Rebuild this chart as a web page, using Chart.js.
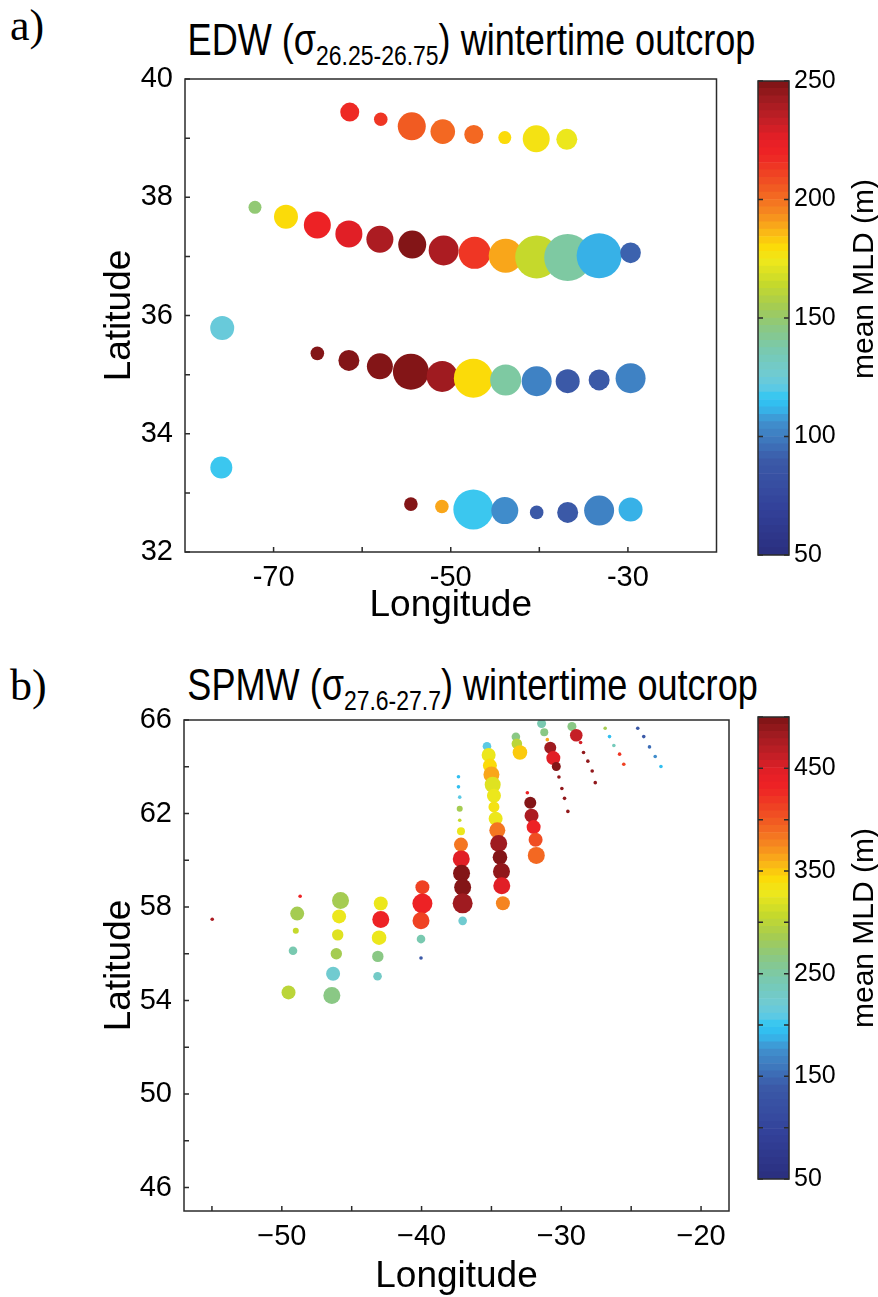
<!DOCTYPE html>
<html>
<head>
<meta charset="utf-8">
<script src="https://cdn.jsdelivr.net/npm/chart.js@4.4.1/dist/chart.umd.min.js"></script>
<style>
  body { margin: 0; background: #fff; width: 878px; height: 1297px; position: relative; overflow: hidden;
         font-family: "Liberation Sans", Arial, sans-serif; }
  canvas { position: absolute; }
  .tag { position: absolute; font-family: "Liberation Serif", "Times New Roman", serif; font-size: 44px; line-height: 44px; }
  .title { position: absolute; font-family: "Liberation Sans Narrow", "Liberation Sans", Arial, sans-serif;
           font-size: 44px; line-height: 44px; text-align: center; white-space: nowrap;
           transform: scaleX(0.82); transform-origin: center; }
  .title sub { font-size: 28px; vertical-align: -10px; line-height: 0; }
  .cblabel { position: absolute; width: 260px; height: 36px; line-height: 36px; font-size: 30px;
             text-align: center; white-space: nowrap; transform: rotate(-90deg); }
</style>
</head>
<body>
<div class="tag" style="left:10px; top:4px;">a)</div>
<div class="title" style="left:125px; width:693px; top:18px;">EDW (&sigma;<sub>26.25-26.75</sub>) wintertime outcrop</div>
<canvas id="chartA" width="740" height="660" style="left:0; top:0;"></canvas>
<canvas id="cbarA" width="138" height="660" style="left:740px; top:0;"></canvas>
<div class="cblabel" style="left:733px; top:261px;">mean MLD (m)</div>

<div class="tag" style="left:10px; top:664px;">b)</div>
<div class="title" style="left:125px; width:693px; top:663px;">SPMW (&sigma;<sub>27.6-27.7</sub>) wintertime outcrop</div>
<canvas id="chartB" width="740" height="637" style="left:0; top:660px;"></canvas>
<canvas id="cbarB" width="138" height="637" style="left:740px; top:660px;"></canvas>
<div class="cblabel" style="left:733px; top:910px;">mean MLD (m)</div>

<script>
// ---- panel a: EDW outcrop (rows from north to south, west to east)
const lonA = [
  -61.4, -57.9, -54.4, -50.9, -47.4, -43.9, -40.35, -36.9,
  -72.1, -68.6, -65.06, -61.5, -58.0, -54.35, -50.8, -47.3, -43.8, -40.3, -36.8, -33.25, -29.7,
  -75.8, -65.06, -61.5, -58.0, -54.5, -50.97, -47.45, -43.8, -40.3, -36.8, -33.25, -29.7,
  -75.9, -54.5, -51.0, -47.45, -43.9, -40.3, -36.8, -33.25, -29.7
];
const latA = [
  39.44, 39.32, 39.20, 39.11, 39.06, 39.01, 38.99, 38.98,
  37.83, 37.67, 37.53, 37.38, 37.29, 37.20, 37.10, 37.06, 37.01, 36.99, 36.98, 37.01, 37.06,
  35.79, 35.36, 35.24, 35.14, 35.05, 34.97, 34.94, 34.91, 34.89, 34.89, 34.91, 34.94,
  33.43, 32.81, 32.77, 32.72, 32.70, 32.67, 32.67, 32.70, 32.72
];
const mldA = [
  216, 214, 205, 200, 200, 179, 175, 173,
  148, 179, 219, 226, 240, 248, 238, 214, 188, 163, 138, 112, 93,
  122, 248, 248, 247, 248, 241, 179, 138, 100, 88, 90, 100,
  118, 247, 190, 116, 106, 89, 90, 102, 112
];
const sizeA = [
  9.5, 6.8, 14, 12.3, 9.5, 6.5, 13.5, 10.5,
  6.5, 12, 13.5, 13.5, 13.5, 14, 15, 16, 17, 21.5, 23.5, 22.5, 10.3,
  12, 6.8, 10.5, 13, 18, 15.5, 19.5, 15.5, 15, 12, 10.5, 15,
  11, 6.8, 6.8, 20, 13.5, 6.8, 10.5, 15, 12
];
const xTicksA = [-70, -60, -50, -40, -30];
const xLabelsA = [-70, -50, -30];
const yTicksA = [32, 33, 34, 35, 36, 37, 38, 39, 40];
const yLabelsA = [32, 34, 36, 38, 40];
const cbTicksA = [50, 100, 150, 200, 250];

// ---- panel b: SPMW outcrop (by column, north to south)
const lonB = [
  -54.98,
  -48.69, -48.9, -49.0, -49.2, -49.52,
  -45.8, -45.9, -46.0, -46.1, -46.33, -46.42,
  -42.92, -42.92, -43.04, -43.13, -43.15,
  -39.94, -39.94, -40.04, -40.04, -40.04,
  -37.36, -37.36, -37.27, -37.27, -37.27, -37.18, -37.18, -37.16, -37.14, -37.06, -37.06, -37.06,
  -35.32, -35.20, -35.11, -35.00, -34.91, -34.82, -34.82, -34.70, -34.58, -34.48, -34.39, -34.28, -34.26, -34.18,
  -33.25, -33.18, -32.96,
  -32.43, -32.22, -32.13, -31.98, -31.84, -31.79,
  -31.41, -31.22, -31.00, -30.79, -30.57, -30.36, -30.17, -29.96, -29.77, -29.53,
  -29.24, -28.93, -28.62, -28.41, -28.10, -27.79, -27.57,
  -26.86, -26.55, -26.24, -25.83, -25.53,
  -24.53, -24.10, -23.69, -23.28, -22.87
];
const latB = [
  57.48,
  58.46, 57.72, 56.99, 56.13, 54.35,
  58.28, 57.60, 56.81, 56.00, 55.15, 54.22,
  58.15, 57.47, 56.69, 55.89, 55.04,
  58.85, 58.15, 57.41, 56.63, 55.82,
  63.57, 63.14, 62.70, 62.20, 61.71, 61.24, 60.67, 60.06, 59.45, 58.85, 58.16, 57.41,
  64.88, 64.50, 64.05, 63.67, 63.23, 62.76, 62.28, 61.78, 61.28, 60.72, 60.13, 59.52, 58.91, 58.16,
  65.28, 64.98, 64.61,
  62.89, 62.46, 61.91, 61.42, 60.88, 60.21,
  65.85, 65.48, 65.16, 64.81, 64.37, 64.01, 63.56, 63.07, 62.65, 62.09,
  65.72, 65.35, 65.04, 64.61, 64.24, 63.82, 63.32,
  65.65, 65.29, 64.91, 64.54, 64.11,
  65.65, 65.29, 64.85, 64.44, 64.01
];
const mldB = [
  473,
  432, 284, 306, 240, 298,
  284, 329, 320, 288, 223, 261,
  329, 432, 329, 261, 231,
  410, 435, 410, 240, 136,
  194, 194, 207, 284, 306, 329, 385, 450, 493, 495, 482, 225,
  207, 329, 345, 360, 322, 330, 332, 330, 385, 480, 495, 487, 450, 374,
  261, 298, 350,
  432, 497, 478, 431, 408, 392,
  240, 266, 365, 485, 446, 497, 490, 490, 490, 490,
  261, 463, 455, 490, 490, 490, 490,
  284, 194, 235, 420, 410,
  140, 140, 155, 176, 194
];
const sizeB = [
  1.8,
  1.8, 7, 3, 4.3, 7,
  8.5, 7, 5.7, 5.7, 7, 8.5,
  7, 8.5, 7.3, 5.7, 4.3,
  7, 10, 8.5, 4.3, 1.8,
  1.8, 1.8, 1.8, 3, 1.8, 4, 7, 8.5, 8.5, 8.5, 10, 4.3,
  4.3, 7, 7, 8, 8, 7, 5.5, 7, 8, 8.5, 7.3, 8.5, 8.5, 7,
  4.3, 5.3, 7.3,
  1.8, 6, 7, 7, 7, 8.5,
  4.5, 4, 1.8, 6, 7, 4.5, 1.8, 1.8, 1.8, 1.8,
  4.5, 6.3, 1.8, 1.8, 1.8, 1.8, 1.8,
  1.8, 1.8, 1.8, 1.8, 1.8,
  1.8, 1.8, 1.8, 1.8, 1.8
];
const xTicksB = [-55, -50, -45, -40, -35, -30, -25, -20];
const xLabelsB = [-50, -40, -30, -20];
const yTicksB = [46, 48, 50, 52, 54, 56, 58, 60, 62, 64, 66];
const yLabelsB = [46, 50, 54, 58, 62, 66];
const cbTicksB = [50, 100, 150, 200, 250, 300, 350, 400, 450, 500];
const cbLabelsB = [50, 150, 250, 350, 450];

// colour map sampled from the colour bars (fraction, colour)
const stops = [
  [0.00, '#2A2E7E'], [0.10, '#33429A'], [0.20, '#3B5AA8'], [0.235, '#3E73BA'], [0.28, '#4090CE'],
  [0.31, '#35B8EC'], [0.33, '#2FC6F3'], [0.355, '#62C9E2'], [0.383, '#70CBD0'], [0.425, '#77C9B4'],
  [0.48, '#8BC882'], [0.52, '#A3CB55'], [0.57, '#C5D92C'], [0.62, '#EEE81B'], [0.65, '#FCDA08'],
  [0.685, '#FAB218'], [0.72, '#F68A1F'], [0.755, '#F36A22'], [0.80, '#EF4523'], [0.847, '#EE2225'],
  [0.88, '#E41F26'], [0.917, '#C21F26'], [0.96, '#A01B20'], [1.00, '#7C1315']
];
const NLEV = 64;

function hexRgb(h) { return [1, 3, 5].map(i => parseInt(h.slice(i, i + 2), 16)); }
function mapColor(t) {
  for (let i = 1; i < stops.length; i++) {
    if (t <= stops[i][0]) {
      const [t0, c0] = stops[i - 1], [t1, c1] = stops[i];
      const f = (t - t0) / (t1 - t0), a = hexRgb(c0), b = hexRgb(c1);
      return 'rgb(' + a.map((v, k) => Math.round(v + (b[k] - v) * f)).join(',') + ')';
    }
  }
  return stops[stops.length - 1][1];
}
const levels = Array.from({ length: NLEV }, (_, i) => mapColor((i + 0.5) / NLEV));
function colorFor(v, min, max) {
  const i = Math.max(0, Math.min(NLEV - 1, Math.floor((v - min) / (max - min) * NLEV)));
  return levels[i];
}

// frame + inward tick marks
const framePlugin = {
  id: 'frame',
  afterDraw(chart, args, opts) {
    const { ctx, chartArea: a } = chart;
    const len = opts.tick || 5;
    ctx.save();
    ctx.strokeStyle = '#2b2b2b';
    ctx.lineWidth = 1.5;
    ctx.strokeRect(a.left, a.top, a.right - a.left, a.bottom - a.top);
    ctx.beginPath();
    (opts.sides || []).forEach(side => {
      const vert = side === 'left' || side === 'right';
      const scale = vert ? chart.scales.y : chart.scales.x;
      scale.ticks.forEach(t => {
        const p = scale.getPixelForValue(t.value);
        if (side === 'left') { ctx.moveTo(a.left, p); ctx.lineTo(a.left + len, p); }
        if (side === 'right') { ctx.moveTo(a.right, p); ctx.lineTo(a.right - len, p); }
        if (side === 'bottom') { ctx.moveTo(p, a.bottom); ctx.lineTo(p, a.bottom - len); }
      });
    });
    ctx.stroke();
    ctx.restore();
  }
};

function fixTicks(list) {
  return s => { s.ticks = list.map(v => ({ value: v })); };
}

function bubbleChart(id, lon, lat, mld, size, o) {
  const pts = lon.map((x, i) => ({ x, y: lat[i], r: size[i] }));
  const cols = mld.map(v => colorFor(v, o.cmin, o.cmax));
  return new Chart(document.getElementById(id), {
    type: 'bubble',
    data: { datasets: [{ data: pts, backgroundColor: cols, borderWidth: 0, hoverRadius: 0 }] },
    options: {
      responsive: false, animation: false, events: [],
      layout: { padding: { left: 0, top: o.top, right: o.right, bottom: 0 } },
      plugins: { legend: { display: false }, tooltip: { enabled: false }, frame: { sides: ['left', 'bottom'], tick: 5 } },
      scales: {
        x: {
          type: 'linear', min: o.xmin, max: o.xmax,
          afterFit: s => { s.height = o.xh; },
          afterBuildTicks: fixTicks(o.xTicks),
          grid: { display: false, drawTicks: false },
          border: { display: false },
          ticks: { autoSkip: false, maxRotation: 0, padding: 9, color: '#000',
                   font: { size: 29, family: '"Liberation Sans", Arial' },
                   callback: v => o.xLabels.includes(v) ? o.fmt(v) : '' },
          title: { display: true, text: 'Longitude', color: '#000',
                   font: { size: 37, family: '"Liberation Sans", Arial', lineHeight: 1 },
                   padding: { top: 0, bottom: o.xtPad } }
        },
        y: {
          type: 'linear', min: o.ymin, max: o.ymax,
          afterFit: s => { s.width = o.yw; },
          afterBuildTicks: fixTicks(o.yTicks),
          grid: { display: false, drawTicks: false },
          border: { display: false },
          ticks: { autoSkip: false, padding: 12, color: '#000',
                   font: { size: 29, family: '"Liberation Sans", Arial' },
                   callback: v => o.yLabels.includes(v) ? String(v) : '' },
          title: { display: true, text: 'Latitude', color: '#000',
                   font: { size: 37, family: '"Liberation Sans", Arial', lineHeight: 1 },
                   padding: { top: 101, bottom: 0 } }
        }
      }
    },
    plugins: [framePlugin]
  });
}

function colorBar(id, min, max, ticks, labels, o) {
  const step = (max - min) / NLEV;
  const sets = levels.map((c, i) => ({
    data: [[min + i * step, min + (i + 1) * step]], backgroundColor: c, borderWidth: 0,
    grouped: false, barPercentage: 1, categoryPercentage: 1
  }));
  return new Chart(document.getElementById(id), {
    type: 'bar',
    data: { labels: [''], datasets: sets },
    options: {
      responsive: false, animation: false, events: [],
      layout: { padding: { left: 18, top: o.top, right: 0, bottom: o.bottom } },
      plugins: { legend: { display: false }, tooltip: { enabled: false }, frame: { sides: ['left', 'right'], tick: 5 } },
      scales: {
        x: { display: false },
        y: {
          position: 'right', min, max,
          afterFit: s => { s.width = 89; },
          afterBuildTicks: fixTicks(ticks),
          grid: { display: false, drawTicks: false },
          border: { display: false },
          ticks: { autoSkip: false, padding: 5, color: '#000',
                   font: { size: 25, family: '"Liberation Sans Narrow", "Liberation Sans", Arial' },
                   callback: v => labels.includes(v) ? String(v) : '' }
        }
      }
    },
    plugins: [framePlugin]
  });
}

bubbleChart('chartA', lonA, latA, mldA, sizeA, {
  cmin: 50, cmax: 250, xmin: -80, xmax: -20, ymin: 32, ymax: 40,
  top: 79, right: 8, xh: 108, yw: 185, xtPad: 36,
  xTicks: xTicksA, xLabels: xLabelsA, yTicks: yTicksA, yLabels: yLabelsA,
  fmt: v => String(v)
});
colorBar('cbarA', 50, 250, cbTicksA, cbTicksA, { top: 81, bottom: 105 });

bubbleChart('chartB', lonB, latB, mldB, sizeB, {
  cmin: 50, cmax: 500, xmin: -57, xmax: -18, ymin: 45, ymax: 66,
  top: 60, right: 11, xh: 86, yw: 184, xtPad: 2,
  xTicks: xTicksB, xLabels: xLabelsB, yTicks: yTicksB, yLabels: yLabelsB,
  fmt: v => String(v).replace('-', '\u2212')
});
colorBar('cbarB', 50, 500, cbTicksB, cbLabelsB, { top: 57, bottom: 118 });
</script>
</body>
</html>
